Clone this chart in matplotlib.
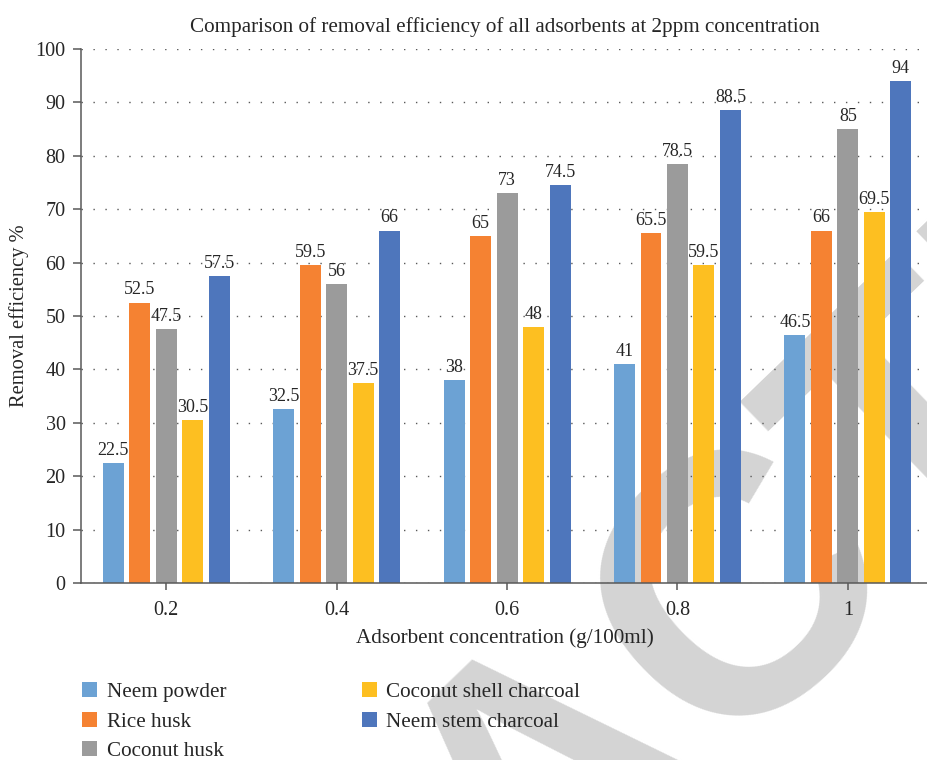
import numpy as np
import matplotlib
matplotlib.use("Agg")
import matplotlib.pyplot as plt

plt.rcParams["font.family"] = ["Liberation Serif", "DejaVu Serif"]

# removal efficiency (%) per adsorbent at each dose
concentrations = ["0.2", "0.4", "0.6", "0.8", "1"]
neem_powder = [22.5, 32.5, 38, 41, 46.5]
rice_husk = [52.5, 59.5, 65, 65.5, 66]
coconut_husk = [47.5, 56, 73, 78.5, 85]
coconut_shell_charcoal = [30.5, 37.5, 48, 59.5, 69.5]
neem_stem_charcoal = [57.5, 66, 74.5, 88.5, 94]

series = [
    ("Neem powder", neem_powder, "#6ca2d4"),
    ("Rice husk", rice_husk, "#f58232"),
    ("Coconut husk", coconut_husk, "#9b9b9b"),
    ("Coconut shell charcoal", coconut_shell_charcoal, "#fdbf21"),
    ("Neem stem charcoal", neem_stem_charcoal, "#4e76bc"),
]

fig = plt.figure(figsize=(9.28, 7.6), dpi=100)

# grey diagonal stamp behind the plot
fig.text(0.596, -0.0224, "RETRACTED", fontsize=265, color="#d4d4d4",
         family="Liberation Sans", weight="bold", rotation=44,
         ha="center", va="center", zorder=-5)

ax = fig.add_axes([0.0873, 0.2329, 0.9127, 0.7026])
ax.set_facecolor("none")

x = np.arange(len(concentrations))
step = 0.1554
width = 0.123
for j, (name, vals, color) in enumerate(series):
    pos = x + (j - 2) * step
    bars = ax.bar(pos, vals, width, color=color, label=name, zorder=2)
    for b, v in zip(bars, vals):
        ax.annotate(f"{v:g}", (b.get_x() + b.get_width() / 2, v),
                    xytext=(0, 3), textcoords="offset points",
                    ha="center", va="bottom", fontsize=13, color="#262626",
                    zorder=3)

ax.set_xlim(-0.5, 4.47)
ax.set_ylim(0, 100)
ax.set_yticks(range(0, 101, 10))
ax.set_xticks(x)
ax.set_xticklabels(concentrations)

ax.set_axisbelow(True)
ax.yaxis.grid(True, color="#595959", linewidth=1.0, linestyle=(0, (1, 7.6)))

for side in ["top", "right"]:
    ax.spines[side].set_visible(False)
for side in ["left", "bottom"]:
    ax.spines[side].set_color("#595959")
    ax.spines[side].set_linewidth(1.1)

ax.tick_params(axis="y", direction="out", length=6, width=1.1, color="#595959",
               labelsize=14.5, pad=5, labelcolor="#262626")
ax.tick_params(axis="x", direction="out", length=5, width=1.1, color="#595959",
               labelsize=14.5, pad=8, labelcolor="#262626")

ax.set_title("Comparison of removal efficiency of all adsorbents at 2ppm concentration",
             fontsize=15.2, color="#262626", pad=12)
ax.set_xlabel("Adsorbent concentration (g/100ml)", fontsize=15.2, color="#262626",
              labelpad=6)
ax.set_ylabel("Removal efficiency %", fontsize=14.8, color="#262626", labelpad=5)

handles, labels = ax.get_legend_handles_labels()
fig.legend(handles, labels, loc="upper left", bbox_to_anchor=(0.0884, 0.102),
           ncol=2, frameon=False, fontsize=15.2, handlelength=0.71,
           handleheight=0.71, handletextpad=0.47, columnspacing=6.4,
           labelspacing=0.45, borderaxespad=0, borderpad=0, labelcolor="#262626")

fig.savefig("out.png", dpi=100)
